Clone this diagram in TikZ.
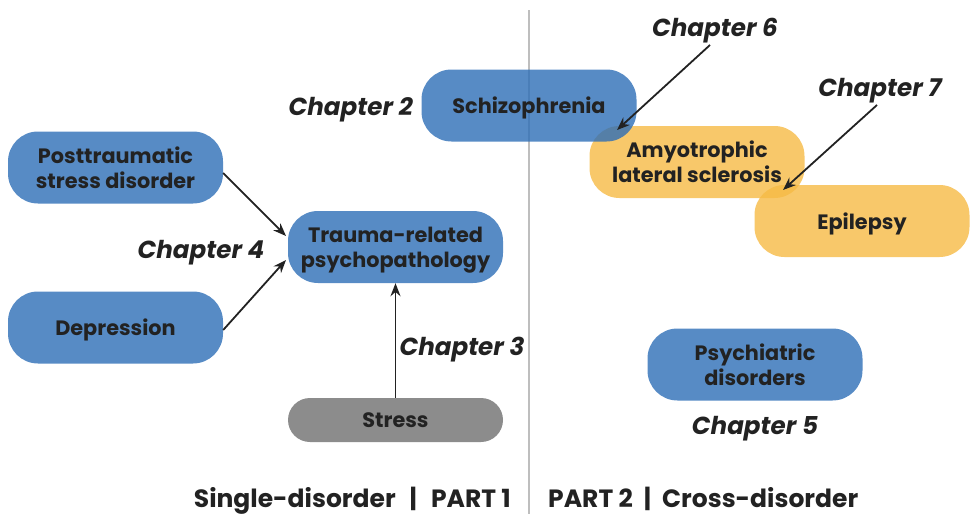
\documentclass[tikz,border=0pt]{standalone}
\usepackage{fontspec}
\setmainfont{Poppins}
\usetikzlibrary{arrows.meta}
\definecolor{nblue}{RGB}{45,110,183}
\definecolor{nyellow}{RGB}{246,186,69}
\definecolor{ngrey}{RGB}{111,111,111}
\definecolor{ntext}{RGB}{34,34,34}
\definecolor{divider}{RGB}{190,190,190}
\newcommand\boxfont{\fontsize{20.8}{25}\selectfont\bfseries}
\newcommand\chapfont{\fontsize{24.6}{28}\selectfont\bfseries\itshape}
\newcommand\partfont{\fontsize{25}{28}\selectfont\bfseries}
\newcommand\wsp[1]{\hspace*{#1}}
\tikzset{
  box/.style={rectangle, rounded corners=30pt, minimum width=215pt, minimum height=72pt,
    inner sep=0pt, align=center, font=\boxfont, text=ntext, fill opacity=0.8, text opacity=1,
    text depth=0pt},
  bluebox/.style={box, fill=nblue},
  yellowbox/.style={box, fill=nyellow},
  greybox/.style={box, fill=ngrey, minimum height=44pt, rounded corners=22pt},
  chap/.style={font=\chapfont, text=ntext, inner sep=0pt, text depth=0pt},
  part/.style={font=\partfont, text=ntext, inner sep=0pt, text depth=0pt},
  arr/.style={-{Stealth[length=13pt,width=10pt]}, line width=1.8pt, draw=ntext}
}
\begin{document}
\begin{tikzpicture}[x=1pt,y=-1pt]
\useasboundingbox (0,0) rectangle (970,514);
\coordinate (dtop) at (529,10);
\coordinate (dbot) at (529,514);
\draw[divider, line width=1.5pt] (dtop) -- (dbot);

\node[yellowbox] (als) at (697,162) {Amyotrophic\\lateral sclerosis};
\node[bluebox] (schiz) at (529,105.5) {Schizophrenia};
\node[yellowbox] (epi) at (862,221) {Epilepsy};
\node[bluebox] (psy) at (755,364.5) {Psychiatric\\disorders};
\node[bluebox] (ptsd) at (115.5,167.5) {Posttraumatic\\stress disorder};
\node[bluebox] (dep) at (115.5,327.5) {Depression};
\node[bluebox] (trauma) at (395.5,247) {Trauma-related\\psychopathology};
\node[greybox] (stress) at (395.5,420) {Stress};

\node[chap, anchor=east] (c2) at (413,106) {Chapter 2};
\node[chap] (c6) at (715,27) {Chapter 6};
\node[chap] (c7) at (880,87) {Chapter 7};
\node[chap] (c4) at (201,249) {Chapter 4};
\node[chap] (c3) at (462,346) {Chapter 3};
\node[chap] (c5) at (755,425) {Chapter 5};
\node[part, anchor=east] (p1) at (511,497) {Single-disorder\wsp{14pt}|\wsp{14pt}PART 1};
\node[part, anchor=west] (p2) at (548,497) {PART 2\wsp{11pt}|\wsp{11pt}Cross-disorder};

\coordinate (a6s) at (710,45);
\coordinate (a6e) at (617,130);
\coordinate (a7s) at (877,105);
\coordinate (a7e) at (783,190);
\draw[arr] (a6s) -- (a6e);
\draw[arr] (a7s) -- (a7e);
\draw[arr] (ptsd.east |- 0,173) -- (286,236);
\draw[arr] (dep.east |- 0,330) -- (286,260);
\draw[arr] (stress.north) -- (trauma.south);
\end{tikzpicture}
\end{document}
